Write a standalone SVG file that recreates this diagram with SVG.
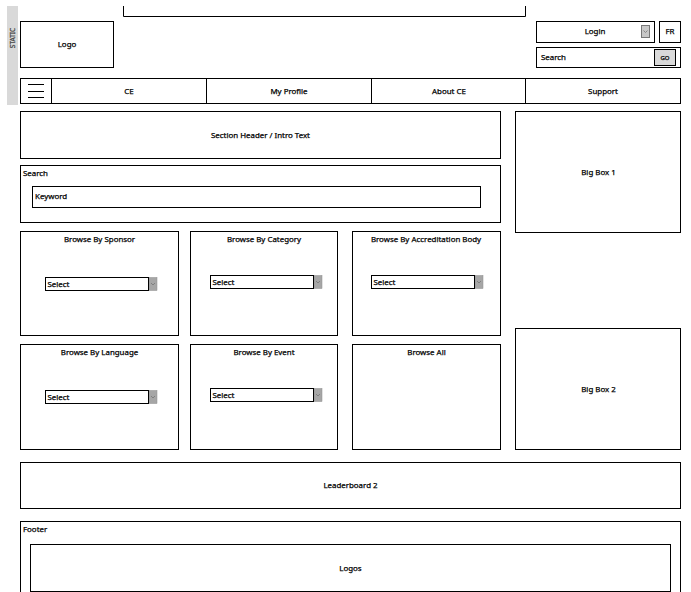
<svg xmlns="http://www.w3.org/2000/svg" width="691" height="592" viewBox="0 0 691 592">
<defs>
<style>
.b{fill:#fff;stroke:#000;stroke-width:1}
.l{fill:none;stroke:#000;stroke-width:1}
text{font-family:"Noto Sans","DejaVu Sans",sans-serif;font-size:7.900px;fill:#000;stroke:#000;stroke-width:.25px}
.c{text-anchor:middle}
.s{fill:#a6a6a6;stroke:#8c8c8c;stroke-width:.5}
.v{fill:none;stroke:#6e6e6e;stroke-width:.7}
</style>
<g id="sel">
<rect class="s" x="103.500" y="0" width="8" height="13"/>
<path class="v" d="M105.500 5.500l2 2 2-2"/>
<rect class="b" x="0" y="0" width="103" height="13"/>
<text x="2" y="9.500">Select</text>
</g>
</defs>
<rect width="691" height="592" fill="#fff"/>
<g id="static"><rect x="7" y="6" width="11" height="99" fill="#d9d9d9"/><text class="c" transform="translate(15,38) rotate(-90)" style="font-size:6.500px;fill:#444;stroke:#444">STATIC</text></g>
<g id="top-banner"><path class="l" d="M123.500 6V16.500H525.500V6"/></g>
<g id="logo"><rect class="b" x="20.500" y="21.500" width="93" height="46"/><text class="c" x="67" y="47">Logo</text></g>
<g id="login"><rect class="b" x="536.500" y="21.500" width="118" height="21"/><text class="c" x="595" y="34">Login</text><rect x="641.500" y="25.500" width="8" height="12" fill="#c8c8c8" stroke="#777"/><path class="v" d="M643.500 30.500l2 2 2-2"/></g>
<g id="lang"><rect class="b" x="659.500" y="21.500" width="21" height="21"/><text class="c" x="670" y="34">FR</text></g>
<g id="top-search"><rect class="b" x="536.500" y="47.500" width="144" height="20"/><text x="541" y="60">Search</text><rect x="654.500" y="49.500" width="21" height="16" fill="#d9d9d9" stroke="#000"/><text class="c" x="665" y="60" style="font-size:6px">GO</text></g>
<g id="nav">
<rect class="b" x="20.500" y="78.500" width="660" height="25"/>
<path class="l" d="M51.500 78.500V103.500M206.500 78.500V103.500M371.500 78.500V103.500M525.500 78.500V103.500M28 84.500H44M28 91.500H44M28 97.500H44"/>
<text class="c" x="129" y="94">CE</text><text class="c" x="289" y="94">My Profile</text><text class="c" x="449" y="94">About CE</text><text class="c" x="603" y="94">Support</text>
</g>
<g id="section-header"><rect class="b" x="20.500" y="111.500" width="480" height="47"/><text class="c" x="260.500" y="138">Section Header / Intro Text</text></g>
<g id="search"><rect class="b" x="20.500" y="165.500" width="480" height="57"/><text x="23" y="176">Search</text><rect class="b" x="32.500" y="186.500" width="448" height="21"/><text x="35" y="199">Keyword</text></g>
<g id="big-box-1"><rect class="b" x="515.500" y="111.500" width="165" height="121"/><text class="c" x="598.500" y="175">Big Box 1</text></g>
<g id="big-box-2"><rect class="b" x="515.500" y="328.500" width="165" height="121"/><text class="c" x="598.500" y="392">Big Box 2</text></g>
<g id="browse-sponsor"><rect class="b" x="20.500" y="231.500" width="158" height="104"/><text class="c" x="99.500" y="242">Browse By Sponsor</text><use href="#sel" x="45.500" y="277.500"/></g>
<g id="browse-category"><rect class="b" x="190.500" y="231.500" width="147" height="104"/><text class="c" x="264" y="242">Browse By Category</text><use href="#sel" x="210.500" y="275.500"/></g>
<g id="browse-accreditation"><rect class="b" x="352.500" y="231.500" width="148" height="104"/><text class="c" x="426" y="242">Browse By Accreditation Body</text><use href="#sel" x="371.500" y="275.500"/></g>
<g id="browse-language"><rect class="b" x="20.500" y="344.500" width="158" height="105"/><text class="c" x="99.500" y="355">Browse By Language</text><use href="#sel" x="45.500" y="390.500"/></g>
<g id="browse-event"><rect class="b" x="190.500" y="344.500" width="147" height="105"/><text class="c" x="264" y="355">Browse By Event</text><use href="#sel" x="210.500" y="388.500"/></g>
<g id="browse-all"><rect class="b" x="352.500" y="344.500" width="148" height="105"/><text class="c" x="426.500" y="355">Browse All</text></g>
<g id="leaderboard"><rect class="b" x="20.500" y="462.500" width="660" height="46"/><text class="c" x="350.500" y="488">Leaderboard 2</text></g>
<g id="footer"><rect class="b" x="20.500" y="521.500" width="660" height="80"/><text x="23" y="532">Footer</text></g>
<g id="logos"><rect class="b" x="30.500" y="544.500" width="640" height="47"/><text class="c" x="350.500" y="571">Logos</text></g>
</svg>
